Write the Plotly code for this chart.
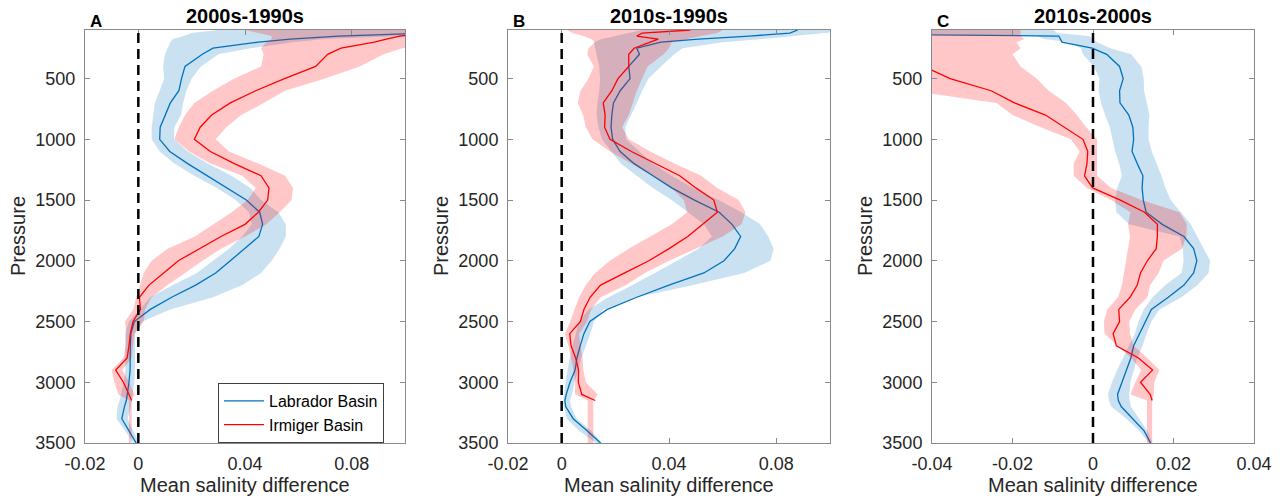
import plotly.graph_objects as go

# ---------------- data ----------------
pressure = [100, 125, 150, 175, 200, 250, 300, 400, 500, 600, 700, 800, 900, 1000,
            1100, 1200, 1300, 1400, 1500, 1600, 1700, 1800, 1900, 2000, 2100, 2200,
            2300, 2400, 2500, 2600, 2700, 2800, 2900, 3000, 3100, 3150, 3200, 3300,
            3400, 3500]

# Panel A: 2000s-1990s
A_lab_mean = [0.13, 0.11, 0.075, 0.057, 0.045, 0.028, 0.024, 0.0175, 0.0162, 0.0152, 0.012, 0.010,
              0.0082, 0.0080, 0.0118, 0.0185, 0.0258, 0.0335, 0.0405, 0.0455, 0.0466, 0.0452,
              0.040, 0.0345, 0.029, 0.0215, 0.0125, 0.0045, -0.0015, -0.0028, -0.003, -0.0031,
              -0.0031, -0.0035, -0.004, -0.0045, -0.0052, -0.0062, -0.0035, -0.0008]
A_lab_lo = [0.03, 0.02, 0.017, 0.013, 0.012, 0.011, 0.010, 0.0093, 0.0097, 0.008, 0.0062, 0.0056,
            0.005, 0.005, 0.008, 0.0135, 0.021, 0.0295, 0.0365, 0.0415, 0.0425, 0.039, 0.034,
            0.028, 0.022, 0.013, 0.0045, 0.0005, -0.0035, -0.005, -0.0048, -0.005, -0.0048,
            -0.0055, -0.0065, -0.007, -0.0078, -0.0082, -0.005, -0.0018]
A_lab_hi = [0.12, 0.12, 0.10, 0.07, 0.058, 0.042, 0.030, 0.0235, 0.020, 0.018, 0.0168, 0.016,
            0.0135, 0.0134, 0.0185, 0.026, 0.035, 0.042, 0.046, 0.0525, 0.0553, 0.0553, 0.053,
            0.050, 0.046, 0.039, 0.028, 0.012, 0.0015, -0.0012, -0.0012, -0.0013, -0.0013,
            -0.0015, -0.002, -0.0025, -0.0028, -0.004, -0.0018, 0.0002]
A_irm_mean = [0.12, 0.11, 0.098, 0.093, 0.0885, 0.076, 0.071, 0.0665, 0.0548, 0.044, 0.0345, 0.0275,
              0.0232, 0.021, 0.027, 0.036, 0.046, 0.049, 0.0485, 0.045, 0.040, 0.031, 0.0228,
              0.015, 0.0095, 0.004, 0.0004, 0.0008, -0.002, -0.003, -0.0035, -0.0042, -0.0085,
              -0.0056, -0.0035, -0.0025, None, None, None, None]
A_irm_lo = [0.04, 0.045, 0.05, 0.05, 0.048, 0.046, 0.047, 0.046, 0.036, 0.028, 0.021, 0.0175,
            0.0152, 0.0135, 0.019, 0.027, 0.039, 0.044, 0.041, 0.035, 0.028, 0.0212, 0.011,
            0.005, 0.002, 0.0006, -0.0008, -0.0019, -0.005, -0.0045, -0.0048, -0.0055, -0.010,
            -0.009, -0.0075, -0.0035, -0.0035, -0.0035, -0.0035, -0.0035]
A_irm_hi = [0.12, 0.12, 0.12, 0.12, 0.11, 0.099, 0.092, 0.083, 0.070, 0.055, 0.047, 0.0386,
            0.033, 0.029, 0.034, 0.045, 0.055, 0.058, 0.0575, 0.053, 0.048, 0.040, 0.031,
            0.024, 0.0175, 0.011, 0.005, 0.0025, 0.002, -0.0015, -0.002, -0.0025, -0.006,
            -0.0035, -0.0015, -0.0025, -0.0025, -0.0025, -0.0025, -0.0025]

# Panel B: 2010s-1990s
B_lab_mean = [0.088, 0.085, 0.07, 0.051, 0.037, 0.028, 0.029, 0.025, 0.0255, 0.0218, 0.0193, 0.0187,
              0.0184, 0.019, 0.0218, 0.027, 0.034, 0.041, 0.0495, 0.0587, 0.0635, 0.0667, 0.0645,
              0.0605, 0.053, 0.040, 0.028, 0.017, 0.0105, 0.0083, 0.0069, 0.0057, 0.005, 0.0031,
              0.0017, 0.0012, 0.0015, 0.0043, 0.0095, 0.0145]
B_lab_lo = [0.03, 0.025, 0.02, 0.015, 0.012, 0.0125, 0.013, 0.014, 0.0143, 0.014, 0.0133, 0.013,
            0.0137, 0.015, 0.0185, 0.022, 0.028, 0.034, 0.041, 0.047, 0.053, 0.056, 0.051,
            0.043, 0.035, 0.0265, 0.0175, 0.010, 0.0065, 0.0052, 0.004, 0.003, 0.0022, 0.0014,
            0.0009, 0.0006, 0.0008, 0.0019, 0.0065, 0.0128]
B_lab_hi = [0.11, 0.10, 0.088, 0.075, 0.06, 0.045, 0.042, 0.037, 0.0324, 0.030, 0.028, 0.026,
            0.0237, 0.024, 0.029, 0.034, 0.041, 0.049, 0.0585, 0.067, 0.074, 0.077, 0.079,
            0.0778, 0.068, 0.049, 0.028, 0.0155, 0.012, 0.0107, 0.009, 0.0073, 0.0062, 0.0048,
            0.0038, 0.0031, 0.0035, 0.0056, 0.011, 0.015]
B_irm_mean = [0.048, 0.030, 0.028, 0.036, 0.033, 0.027, 0.025, 0.025, 0.021, 0.0187, 0.0155, 0.0162,
              0.016, 0.018, 0.026, 0.035, 0.044, 0.050, 0.0567, 0.058, 0.0527, 0.047, 0.040,
              0.0325, 0.0235, 0.0145, 0.0106, 0.0083, 0.007, 0.003, 0.0035, 0.0052, 0.0063,
              0.0062, 0.0075, 0.0125, None, None, None, None]
B_irm_lo = [0.002, 0.004, 0.008, 0.011, 0.0125, 0.010, 0.0095, 0.012, 0.010, 0.007, 0.006, 0.008,
            0.009, 0.0115, 0.018, 0.026, 0.034, 0.041, 0.0455, 0.0468, 0.041, 0.033, 0.025,
            0.018, 0.0125, 0.009, 0.0065, 0.0048, 0.0032, 0.0012, 0.0025, 0.0035, 0.0044, 0.005,
            0.005, 0.0097, 0.0097, 0.0097, 0.0097, 0.0097]
B_irm_hi = [0.06, 0.058, 0.052, 0.046, 0.041, 0.040, 0.038, 0.032, 0.030, 0.028, 0.0265, 0.025,
            0.0225, 0.025, 0.033, 0.042, 0.052, 0.058, 0.066, 0.0685, 0.067, 0.060, 0.050,
            0.040, 0.031, 0.024, 0.0145, 0.011, 0.0095, 0.0065, 0.007, 0.0078, 0.0081, 0.009,
            0.0135, 0.0118, 0.0118, 0.0118, 0.0118, 0.0118]

# Panel C: 2010s-2000s
C_lab_mean = [-0.1, -0.09, -0.0085, -0.008, -0.0077, -0.0002, 0.0034, 0.0066, 0.0075, 0.0066, 0.0067,
              0.0089, 0.0099, 0.0101, 0.0097, 0.011, 0.0124, 0.0122, 0.0125, 0.0132, 0.0172,
              0.0226, 0.025, 0.0258, 0.025, 0.0226, 0.0187, 0.0145, 0.013, 0.0115, 0.0101, 0.0094,
              0.0082, 0.0072, 0.0061, 0.0063, 0.007, 0.0098, 0.0127, 0.0143]
C_lab_lo = [-0.06, -0.06, -0.014, -0.012, -0.006, -0.003, -0.0025, 0.0002, 0.0016, 0.0014, 0.002,
            0.003, 0.0042, 0.0048, 0.0055, 0.0065, 0.0072, 0.006, 0.0055, 0.0058, 0.009, 0.0215,
            0.0223, 0.0225, 0.022, 0.018, 0.0148, 0.0126, 0.0113, 0.0104, 0.0089, 0.0073, 0.006,
            0.0047, 0.0037, 0.004, 0.0045, 0.0083, 0.0115, 0.0139]
C_lab_hi = [-0.0098, -0.009, -0.001, 0.0, 0.001, 0.0043, 0.0095, 0.012, 0.0126, 0.0127, 0.0133,
            0.014, 0.0138, 0.0138, 0.0146, 0.0158, 0.017, 0.018, 0.0193, 0.0218, 0.0243, 0.026,
            0.0275, 0.0291, 0.0287, 0.026, 0.022, 0.0165, 0.0145, 0.0133, 0.0123, 0.011, 0.0101,
            0.0093, 0.009, 0.0091, 0.0094, 0.0115, 0.0135, 0.0148]
C_irm_mean = [None, None, None, None, None, None, None, -0.042, -0.0355, -0.0253, -0.0195, -0.0118,
              -0.007, -0.0025, -0.0013, -0.0015, -0.0021, -0.0001, 0.0068, 0.0128, 0.016, 0.016,
              0.0157, 0.0135, 0.0118, 0.011, 0.0092, 0.0064, 0.0066, 0.005, 0.0058, 0.0113, 0.0148,
              0.0118, 0.0142, 0.0147, None, None, None, None]
C_irm_lo = [-0.06, -0.06, -0.06, -0.06, -0.06, -0.06, -0.06, -0.06, -0.06, -0.045, -0.024, -0.020,
            -0.013, -0.0055, -0.0033, -0.0048, -0.0048, -0.0015, 0.0045, 0.0093, 0.0087, 0.0092,
            0.0087, 0.0083, 0.0078, 0.0072, 0.0062, 0.0035, 0.0027, 0.0029, 0.006, 0.0095, 0.012,
            0.0105, 0.0093, 0.0134, 0.0134, 0.0134, 0.0134, 0.0134]
C_irm_hi = [-0.018, -0.018, -0.018, -0.017, -0.019, -0.018, -0.020, -0.018, -0.014, -0.011, -0.0067,
            -0.004, -0.0017, 0.001, 0.001, 0.001, 0.001, 0.0045, 0.012, 0.0215, 0.0233, 0.0232,
            0.0221, 0.0175, 0.0163, 0.0142, 0.0135, 0.0105, 0.009, 0.0092, 0.0101, 0.0135, 0.0165,
            0.0152, 0.0151, 0.0147, 0.0147, 0.0147, 0.0147, 0.0147]

panel_titles = ["2000s-1990s", "2010s-1990s", "2010s-2000s"]
panel_letters = ["A", "B", "C"]
series_names = ["Labrador Basin", "Irmiger Basin"]
x_tickvals = [[-0.02, 0, 0.04, 0.08], [-0.02, 0, 0.04, 0.08], [-0.04, -0.02, 0, 0.02, 0.04]]
x_ticktext = [["-0.02", "0", "0.04", "0.08"], ["-0.02", "0", "0.04", "0.08"],
              ["-0.04", "-0.02", "0", "0.02", "0.04"]]
x_ranges = [[-0.02, 0.1], [-0.02, 0.1], [-0.04, 0.04]]
y_tickvals = [500, 1000, 1500, 2000, 2500, 3000, 3500]
y_range = [3500, 100]

# ---------------- styling ----------------
W, H = 1280, 502
FONT = "Liberation Sans"
BLUE = "#0072BD"
RED = "#FF0000"
BLUE_FILL = "rgba(0,114,189,0.21)"
RED_FILL = "rgba(255,0,0,0.22)"
panel_px = [(85, 405), (508, 830), (932, 1254)]
top_px, bot_px = 30, 443

panels = [
    (A_lab_mean, A_lab_lo, A_lab_hi, A_irm_mean, A_irm_lo, A_irm_hi),
    (B_lab_mean, B_lab_lo, B_lab_hi, B_irm_mean, B_irm_lo, B_irm_hi),
    (C_lab_mean, C_lab_lo, C_lab_hi, C_irm_mean, C_irm_lo, C_irm_hi),
]

fig = go.Figure()
rev_p = pressure[::-1]

for k, (lm, llo, lhi, im, ilo, ihi) in enumerate(panels):
    xa = "x" if k == 0 else f"x{k+1}"
    ya = "y" if k == 0 else f"y{k+1}"
    fig.add_trace(go.Scatter(x=llo + lhi[::-1], y=pressure + rev_p, fill="toself",
                             fillcolor=BLUE_FILL, line=dict(width=0), mode="lines",
                             hoverinfo="skip", showlegend=False, xaxis=xa, yaxis=ya))
    fig.add_trace(go.Scatter(x=lm, y=pressure, mode="lines", name=series_names[0],
                             line=dict(color=BLUE, width=1.3), showlegend=(k == 0),
                             legendrank=1, xaxis=xa, yaxis=ya))
    fig.add_trace(go.Scatter(x=ilo + ihi[::-1], y=pressure + rev_p, fill="toself",
                             fillcolor=RED_FILL, line=dict(width=0), mode="lines",
                             hoverinfo="skip", showlegend=False, xaxis=xa, yaxis=ya))
    fig.add_trace(go.Scatter(x=im, y=pressure, mode="lines", name=series_names[1],
                             line=dict(color=RED, width=1.3), showlegend=(k == 0),
                             legendrank=2, xaxis=xa, yaxis=ya))

axis_common = dict(showline=True, linecolor="#8a8a8a", linewidth=1, mirror="ticks",
                   ticks="inside", ticklen=5, tickcolor="#8a8a8a", showgrid=False,
                   zeroline=False, automargin=False,
                   tickfont=dict(family=FONT, size=18, color="#262626"))

layout = dict(width=W, height=H, margin=dict(l=0, r=0, t=0, b=0), template="none",
              paper_bgcolor="white", plot_bgcolor="white", font=dict(family=FONT),
              showlegend=True)
annotations = []
shapes = []
ydom = [1 - bot_px / H, 1 - top_px / H]
for k in range(3):
    xs = "" if k == 0 else str(k + 1)
    x0, x1 = panel_px[k]
    layout[f"xaxis{xs}"] = dict(axis_common, domain=[x0 / W, x1 / W], range=x_ranges[k],
                                tickvals=x_tickvals[k], ticktext=x_ticktext[k],
                                anchor=f"y{xs}", ticklabelstandoff=4)
    layout[f"yaxis{xs}"] = dict(axis_common, domain=ydom, range=y_range,
                                tickvals=y_tickvals, anchor=f"x{xs}", ticklabelstandoff=5)
    cx = (x0 + x1) / 2
    annotations.append(dict(text=f"<b>{panel_titles[k]}</b>", x=cx / W, y=1 - 16 / H,
                            xref="paper", yref="paper", showarrow=False,
                            font=dict(family=FONT, size=20, color="black"),
                            xanchor="center", yanchor="middle"))
    annotations.append(dict(text=f"<b>{panel_letters[k]}</b>", x=(x0 + 3) / W, y=1 - 22 / H,
                            xref="paper", yref="paper", showarrow=False,
                            font=dict(family=FONT, size=17, color="black"),
                            xanchor="left", yanchor="middle"))
    annotations.append(dict(text="Mean salinity difference", x=cx / W, y=1 - 485 / H,
                            xref="paper", yref="paper", showarrow=False,
                            font=dict(family=FONT, size=20, color="#262626"),
                            xanchor="center", yanchor="middle"))
    annotations.append(dict(text="Pressure", x=(x0 - 67) / W, y=1 - 236 / H,
                            xref="paper", yref="paper", showarrow=False, textangle=-90,
                            font=dict(family=FONT, size=20, color="#262626"),
                            xanchor="center", yanchor="middle"))
    shapes.append(dict(type="line", xref=f"x{xs}", yref=f"y{xs} domain", x0=0, x1=0,
                       y0=0, y1=1, line=dict(color="black", width=2.5, dash="10px,6px")))

layout["annotations"] = annotations
layout["shapes"] = shapes
layout["legend"] = dict(x=218 / W, y=1 - 383 / H, xanchor="left", yanchor="top",
                        bgcolor="white", bordercolor="#404040", borderwidth=1,
                        font=dict(family=FONT, size=16, color="black"),
                        itemwidth=40, tracegroupgap=0)
fig.update_layout(**layout)
fig.write_html("out.html", config={"displayModeBar": False},
               post_script="document.body.style.margin='0';"
                           "document.body.style.overflow='hidden';")
